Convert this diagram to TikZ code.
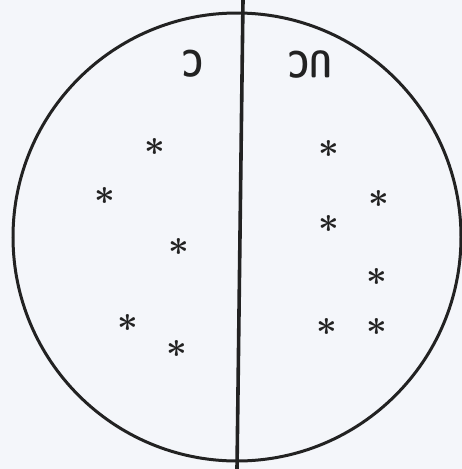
\documentclass[tikz,border=0pt]{standalone}
\usepackage{tikz}
\usepackage{bm}
\definecolor{paper}{HTML}{F4F6FA}
\definecolor{ink}{HTML}{222222}
\tikzset{
  star/.style={inner sep=0pt, ink, scale=1.45, font=\fontsize{24}{24}\selectfont},
  lbl/.style={rotate=180, inner sep=0pt, ink, xscale=0.8, font=\sffamily\bfseries\fontsize{38}{38}\selectfont}
}
\begin{document}
\begin{tikzpicture}[x=1pt,y=-1pt]
\useasboundingbox[fill=paper] (0,0) rectangle (462,469);
\draw[ink, line width=3pt] (237,237) circle [radius=224pt];
\coordinate (top) at (243,0);
\coordinate (bot) at (237,469);
\draw[ink, line width=3.6pt] (top) -- (bot);
\node[lbl] (lblC) at (193,64) {C};
\node[lbl] (lblUC) at (310,64) {UC};
% left half
\foreach \x/\y [count=\i] in {155/147, 105/196, 179/247, 128/323, 177/349}
    \node[star] (l\i) at (\x,\y) {$\bm{\ast}$};
% right half
\foreach \x/\y [count=\i] in {329/149, 379/199, 329/224, 377/277, 327/327, 377/327}
    \node[star] (r\i) at (\x,\y) {$\bm{\ast}$};
\end{tikzpicture}
\end{document}
